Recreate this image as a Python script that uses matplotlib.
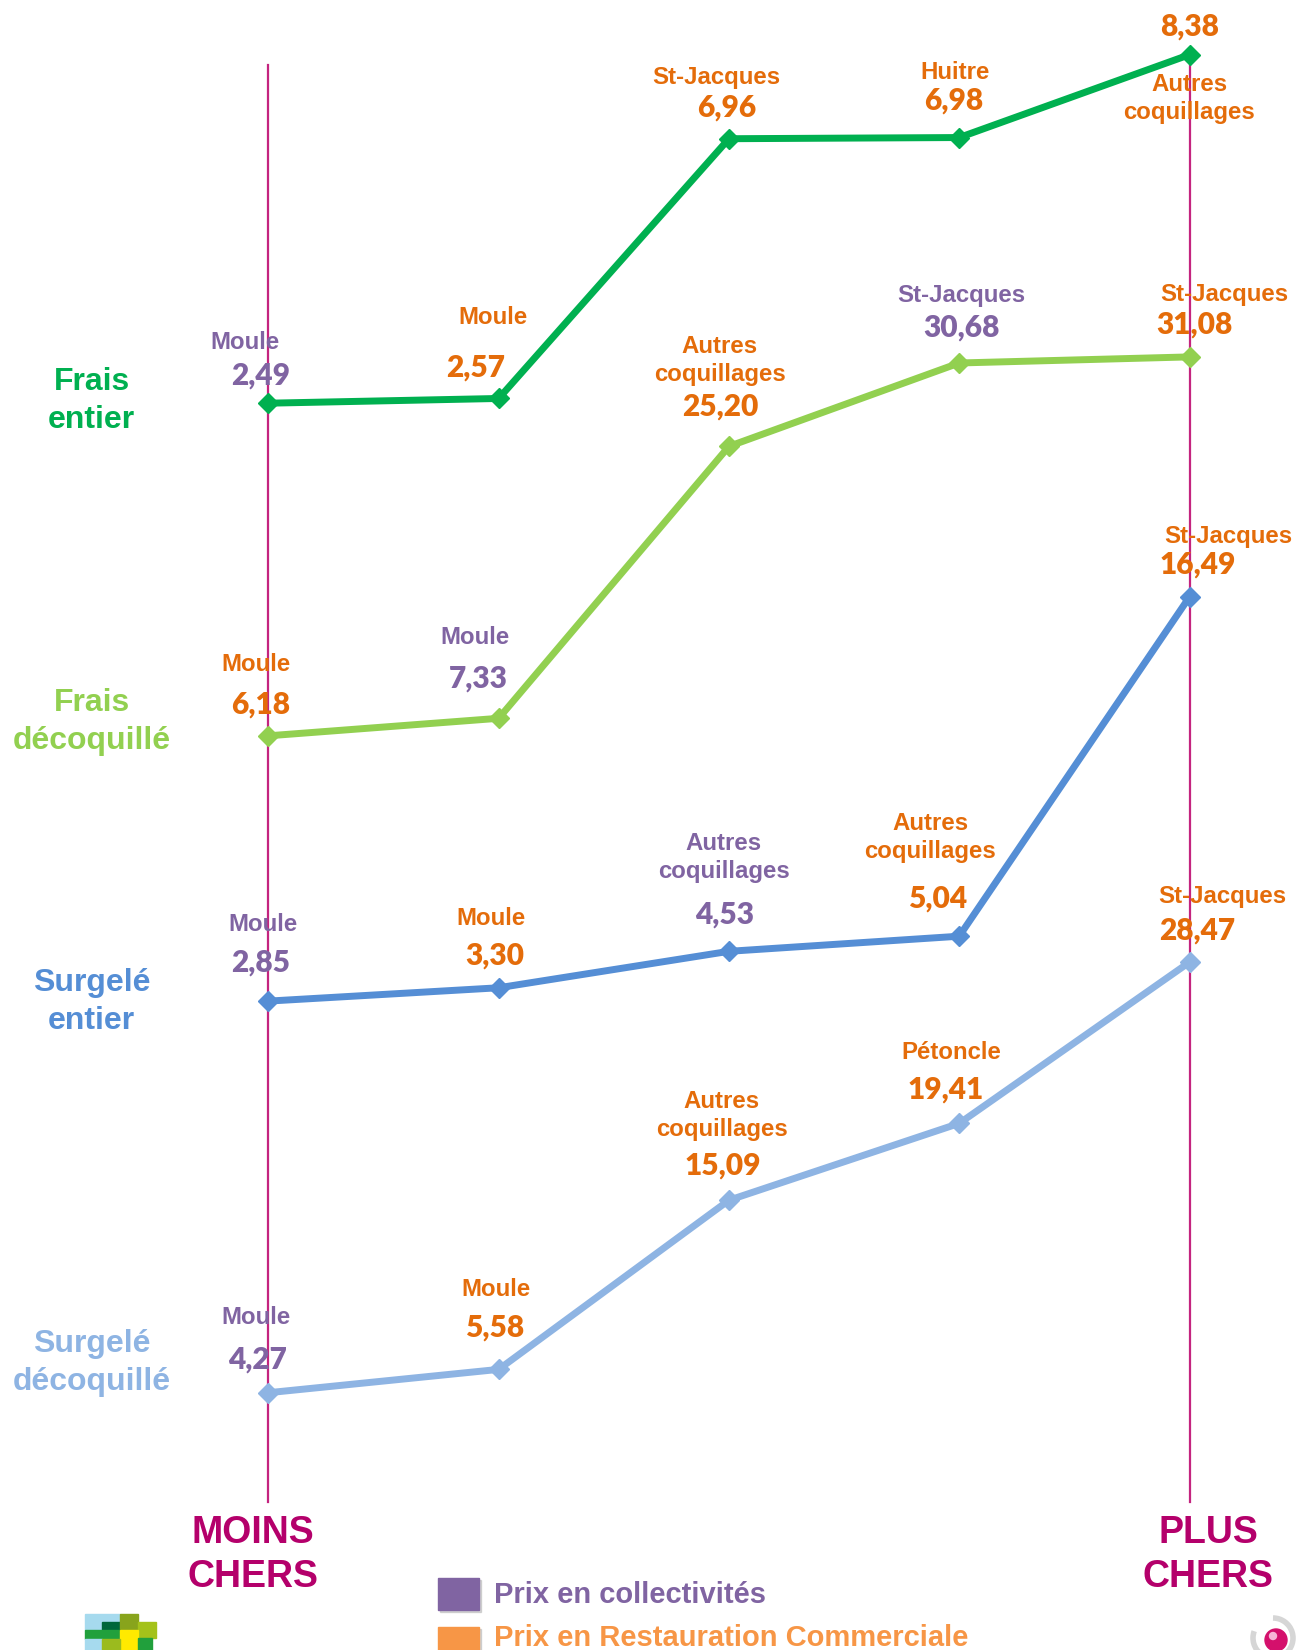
import matplotlib
matplotlib.use("Agg")
import matplotlib.pyplot as plt
from matplotlib.patches import Rectangle, Circle, Arc

# ---- data -------------------------------------------------------------
rangs = [0, 1, 2, 3, 4]  # du moins cher au plus cher

frais_entier_prix = [2.49, 2.57, 6.96, 6.98, 8.38]
frais_entier_noms = ["Moule", "Moule", "St-Jacques", "Huitre", "Autres\ncoquillages"]
frais_entier_src = ["C", "R", "R", "R", "R"]

frais_decoq_prix = [6.18, 7.33, 25.20, 30.68, 31.08]
frais_decoq_noms = ["Moule", "Moule", "Autres\ncoquillages", "St-Jacques", "St-Jacques"]
frais_decoq_src = ["R", "C", "R", "C", "R"]

surg_entier_prix = [2.85, 3.30, 4.53, 5.04, 16.49]
surg_entier_noms = ["Moule", "Moule", "Autres\ncoquillages", "Autres\ncoquillages", "St-Jacques"]
surg_entier_src = ["C", "R", "C", "R", "R"]

surg_decoq_prix = [4.27, 5.58, 15.09, 19.41, 28.47]
surg_decoq_noms = ["Moule", "Moule", "Autres\ncoquillages", "Pétoncle", "St-Jacques"]
surg_decoq_src = ["C", "R", "R", "R", "R"]

categories = ["Frais\nentier", "Frais\ndécoquillé", "Surgelé\nentier", "Surgelé\ndécoquillé"]
legende = ["Prix en collectivités", "Prix en Restauration Commerciale"]

# ---- styles -----------------------------------------------------------
W, H = 1299, 1650
PURPLE = "#8064A2"
ORANGE = "#E46C0A"
ORANGE_LEG = "#F79646"
MAGENTA = "#B4006B"
VLINE = "#C4247F"
SRC_COL = {"C": PURPLE, "R": ORANGE}
LABEL_FONT = ["Liberation Sans", "DejaVu Sans"]
NUM_FONT = ["Lato", "DejaVu Sans"]

series = [
    dict(prix=frais_entier_prix, noms=frais_entier_noms, src=frais_entier_src,
         color="#00B050", anchors=((403.2, 54.7)), cat_y=401,
         off_nom=[(-23, 61), (-6, 81), (-13, 61), (-4, 65), (0, -44)],
         off_val=[(-8, 28), (-23, 31), (-2, 31), (-6, 37), (0, 28)]),
    dict(prix=frais_decoq_prix, noms=frais_decoq_noms, src=frais_decoq_src,
         color="#92D050", anchors=((735.8, 356.9)), cat_y=722,
         off_nom=[(-12, 71), (-24, 81), (-9, 86), (2, 67), (35, 62)],
         off_val=[(-8, 31), (-20, 40), (-9, 40), (2, 35), (5, 32)]),
    dict(prix=surg_entier_prix, noms=surg_entier_noms, src=surg_entier_src,
         color="#558ED5", anchors=((1001.1, 596.9)), cat_y=1002,
         off_nom=[(-5, 77), (-8, 69), (-5, 94), (-29, 99), (39, 60)],
         off_val=[(-8, 39), (-4, 32), (-4, 37), (-22, 38), (8, 32)]),
    dict(prix=surg_decoq_prix, noms=surg_decoq_noms, src=surg_decoq_src,
         color="#8EB4E3", anchors=((1392.7, 962.2)), cat_y=1363,
         off_nom=[(-12, 75), (-3, 80), (-7, 85), (-8, 71), (33, 66)],
         off_val=[(-11, 33), (-4, 42), (-6, 35), (-14, 34), (8, 32)]),
]

# horizontal placement: first rank at x=268 px, last at x=1190 px
X_FIRST, X_LAST = 268.4, 1189.5
step = (X_LAST - X_FIRST) / (len(rangs) - 1)
xlim = (rangs[0] - X_FIRST / step, rangs[-1] + (W - X_LAST) / step)

fig = plt.figure(figsize=(W / 100, H / 100), dpi=100)
fig.patch.set_facecolor("white")


def band_limits(vmin, vmax, p_low, p_high):
    """y-limits so that vmin sits at pixel row p_low and vmax at p_high."""
    s = (p_low - p_high) / (vmax - vmin)
    top = vmax + p_high / s
    return top - H / s, top


# guide lines (moins chers / plus chers)
bg = fig.add_axes([0, 0, 1, 1])
bg.set_xlim(*xlim)
bg.set_ylim(0, 1)
bg.axis("off")
for r in (rangs[0], rangs[-1]):
    bg.axvline(r, ymin=1 - 1502 / H, ymax=1 - 65 / H, color=VLINE, lw=1.6, zorder=1)

for sd in series:
    ax = fig.add_axes([0, 0, 1, 1])
    ax.patch.set_alpha(0)
    ax.axis("off")
    ax.set_xlim(*xlim)
    p_low, p_high = sd["anchors"]
    ax.set_ylim(*band_limits(min(sd["prix"]), max(sd["prix"]), p_low, p_high))
    ax.plot(rangs, sd["prix"], color=sd["color"], lw=5, marker="D", ms=10,
            mec=sd["color"], solid_capstyle="round", zorder=3)
    for i, (v, nom, src) in enumerate(zip(sd["prix"], sd["noms"], sd["src"])):
        col = SRC_COL[src]
        ax.annotate(nom, xy=(rangs[i], v), xytext=sd["off_nom"][i],
                    textcoords="offset pixels", ha="center", va="center",
                    fontsize=17.3, fontweight="bold", family=LABEL_FONT,
                    color=col, linespacing=1.3, zorder=4)
        ax.annotate(f"{v:.2f}".replace(".", ","), xy=(rangs[i], v),
                    xytext=sd["off_val"][i], textcoords="offset pixels",
                    ha="center", va="center", fontsize=21.5, fontweight="heavy",
                    family=NUM_FONT, color=col, zorder=4)

# category names on the left
for sd, cat in zip(series, categories):
    fig.text(91.6 / W, 1 - sd["cat_y"] / H, cat, ha="center", va="center",
             fontsize=23, fontweight="bold", family=LABEL_FONT,
             color=sd["color"], linespacing=1.32)

# bottom captions
for cx, txt in [(252.6, "MOINS\nCHERS"), (1208.5, "PLUS\nCHERS")]:
    fig.text(cx / W, 1 - 1555 / H, txt, ha="center", va="center",
             fontsize=27, fontweight="bold", family=LABEL_FONT, color=MAGENTA,
             linespacing=1.28)

# legend
for (y0, col, txt, ty) in [(1578, PURPLE, legende[0], 1595),
                           (1627, ORANGE_LEG, legende[1], 1638)]:
    fig.patches.append(Rectangle((440 / W, 1 - (y0 + 34) / H), 41 / W, 32 / H,
                                 transform=fig.transFigure, color="#BBBBBB",
                                 alpha=0.6, zorder=1))
    fig.patches.append(Rectangle((438 / W, 1 - (y0 + 32) / H), 41 / W, 32 / H,
                                 transform=fig.transFigure, color=col, zorder=2))
    fig.text(494 / W, 1 - ty / H, txt, ha="left", va="center", fontsize=21,
             fontweight="bold", family=LABEL_FONT, color=col)

# small logos in the bottom corners
blocks = [
    (85, 1614, 35, 16, "#A6DAEE"), (102, 1622, 18, 8, "#00663A"),
    (120, 1614, 18, 16, "#88A41C"), (138, 1622, 18, 16, "#A4C21A"),
    (85, 1630, 35, 9, "#21A03C"), (120, 1630, 18, 20, "#FFEA00"),
    (85, 1639, 17, 11, "#A6DAEE"), (102, 1639, 18, 11, "#9BBB1E"),
    (138, 1638, 14, 12, "#21A03C"),
]
for x0, y0, w, h, c in blocks:
    fig.patches.append(Rectangle((x0 / W, 1 - (y0 + h) / H), w / W, h / H,
                                 transform=fig.transFigure, color=c, zorder=2))

logo = fig.add_axes([1245 / W, 0, 54 / W, 40 / H])
logo.set_xlim(1245, 1299)
logo.set_ylim(1650, 1610)
logo.set_aspect("equal")
logo.axis("off")
logo.add_patch(Arc((1273, 1638), 40, 40, theta1=-90, theta2=200, color="#D6D6D6", lw=4))
logo.add_patch(Circle((1276, 1640), 11, color="#D4106C"))
logo.add_patch(Circle((1273, 1636), 3.5, color="#F6B6D6"))

fig.savefig("out.png", dpi=100, facecolor="white")
